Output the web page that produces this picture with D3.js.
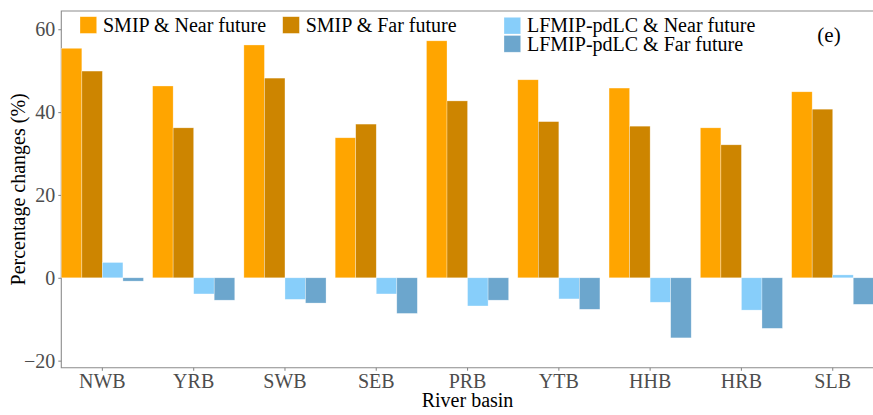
<!DOCTYPE html>
<html>
<head>
<meta charset="utf-8">
<script src="https://cdn.jsdelivr.net/npm/d3@7"></script>
<style>
  body { margin: 0; background: #fff; }
</style>
</head>
<body>
<div id="chart"></div>
<script>
// --- data ---
const basins = ["NWB", "YRB", "SWB", "SEB", "PRB", "YTB", "HHB", "HRB", "SLB"];
const series = ["SMIP & Near future", "SMIP & Far future", "LFMIP-pdLC & Near future", "LFMIP-pdLC & Far future"];
const smipNear = [55.4, 46.3, 56.2, 33.8, 57.2, 47.8, 45.8, 36.2, 44.9];
const smipFar = [49.9, 36.2, 48.2, 37.1, 42.7, 37.7, 36.6, 32.1, 40.7];
const lfNear = [3.7, -3.9, -5.2, -3.9, -6.8, -5.1, -5.9, -7.8, 0.7];
const lfFar = [-0.8, -5.4, -6.1, -8.6, -5.4, -7.6, -14.5, -12.2, -6.4];
const yTicks = [-20, 0, 20, 40, 60];
const colors = ["#FFA500", "#CD8500", "#87CEFA", "#6CA6CD"];

const W = 873, H = 415;
const m = { left: 61.3, right: 873.8, top: 11, bottom: 367.7 };
const serif = "'Liberation Serif', 'Times New Roman', Times, 'DejaVu Serif', serif";

const svg = d3.select("#chart").append("svg")
  .attr("width", W).attr("height", H)
  .attr("font-family", serif);

const x = d3.scaleBand().domain(basins).range([m.left, m.right])
  .paddingInner(0.1).paddingOuter(0);
const xs = d3.scaleBand().domain(series).range([0, x.bandwidth()]);
const y = d3.scaleLinear().domain([-21.7, 64.4]).range([m.bottom, m.top]);

const allValues = [smipNear, smipFar, lfNear, lfFar];
const rows = [];
basins.forEach((b, i) => {
  series.forEach((s, j) => rows.push({ basin: b, series: s, value: allValues[j][i], color: colors[j] }));
});

// panel border (right side falls outside the picture)
svg.append("path")
  .attr("d", `M${m.right},${m.top}H${m.left}V${m.bottom}H${m.right}`)
  .attr("fill", "none")
  .attr("stroke", "#8c8c8c")
  .attr("stroke-width", 1.1);

// axes
const yAxis = svg.append("g")
  .attr("transform", `translate(${m.left},0)`)
  .call(d3.axisLeft(y).tickValues(yTicks).tickSize(3).tickPadding(3));
const xAxis = svg.append("g")
  .attr("transform", `translate(0,${m.bottom})`)
  .call(d3.axisBottom(x).tickSize(3).tickPadding(3));
[yAxis, xAxis].forEach(a => {
  a.attr("font-family", serif).attr("font-size", 20);
  a.select(".domain").remove();
  a.selectAll(".tick line").attr("stroke", "#8c8c8c").attr("stroke-width", 1.1);
  a.selectAll(".tick text").attr("fill", "#4d4d4d");
});

// bars (drawn over the axis line, as in the original)
svg.append("g").selectAll("rect")
  .data(rows).enter().append("rect")
  .attr("x", d => x(d.basin) + xs(d.series))
  .attr("width", xs.bandwidth())
  .attr("y", d => y(Math.max(0, d.value)))
  .attr("height", d => Math.abs(y(d.value) - y(0)))
  .attr("fill", d => d.color)
  .attr("stroke", "#ffffff")
  .attr("stroke-opacity", 0.5)
  .attr("stroke-width", 0.6);

// axis titles
svg.append("text")
  .attr("x", (m.left + m.right) / 2)
  .attr("y", 407)
  .attr("text-anchor", "middle")
  .attr("font-size", 20)
  .text("River basin");
svg.append("text")
  .attr("transform", `translate(25,${(m.top + m.bottom) / 2}) rotate(-90)`)
  .attr("text-anchor", "middle")
  .attr("font-size", 20)
  .text("Percentage changes (%)");

// legend
const legendPos = [[80, 16.7], [282.7, 16.7], [504, 17.3], [504, 35.5]];
const legend = svg.selectAll(".legend")
  .data(series).enter().append("g")
  .attr("class", "legend")
  .attr("transform", (d, i) => `translate(${legendPos[i][0]},${legendPos[i][1]})`);
legend.append("rect")
  .attr("width", 16.7).attr("height", 16.7)
  .attr("fill", (d, i) => colors[i])
  .attr("stroke", "#ffffff").attr("stroke-opacity", 0.5).attr("stroke-width", 0.6);
legend.append("text")
  .attr("x", 23)
  .attr("y", 15)
  .attr("font-size", 20)
  .text(d => d);

// panel tag
svg.append("text")
  .attr("x", 829)
  .attr("y", 42)
  .attr("text-anchor", "middle")
  .attr("font-size", 21)
  .text("(e)");
</script>
</body>
</html>
